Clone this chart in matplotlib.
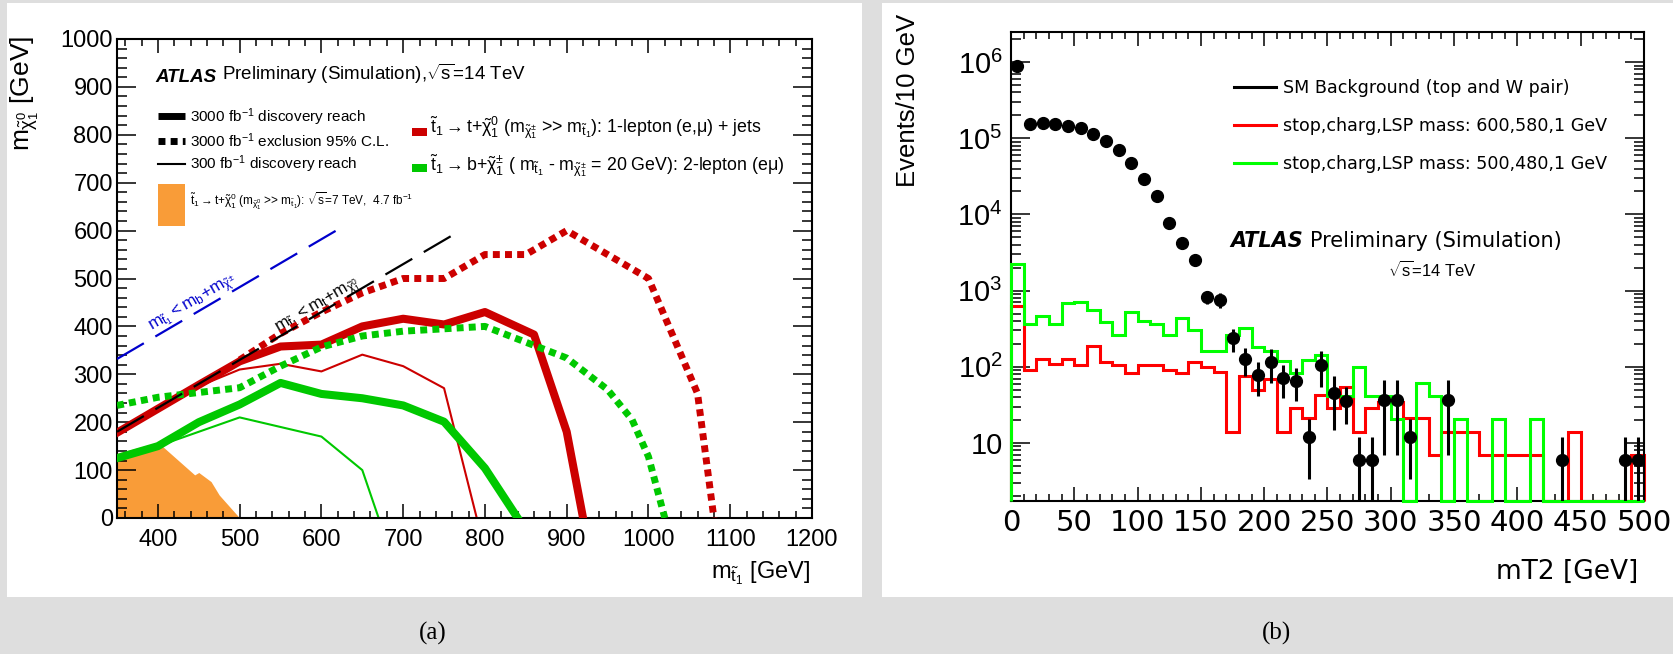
import numpy as np
import matplotlib.pyplot as plt
from matplotlib.lines import Line2D
from matplotlib.patches import Rectangle
from matplotlib.ticker import MultipleLocator, LogLocator, NullFormatter

plt.rcParams['font.family'] = ['Liberation Sans', 'DejaVu Sans']
plt.rcParams['mathtext.fontset'] = 'custom'
plt.rcParams['mathtext.rm'] = 'Liberation Sans'
plt.rcParams['mathtext.it'] = 'Liberation Sans'
plt.rcParams['mathtext.bf'] = 'Liberation Sans:bold'
plt.rcParams['mathtext.sf'] = 'Liberation Sans'

W, H = 1674, 654

# ---- panel (a): stop - neutralino mass plane (GeV) ----
red_disc_x = [350, 400, 450, 500, 550, 600, 650, 700, 750, 800, 860, 900, 920]
red_disc_y = [178, 228, 278, 327, 358, 362, 400, 416, 404, 430, 383, 180, 0]
red_disc300_x = [350, 400, 450, 500, 550, 600, 650, 700, 750, 790]
red_disc300_y = [178, 228, 275, 310, 322, 306, 341, 317, 271, 0]
red_excl_x = [500, 550, 600, 650, 700, 750, 800, 850, 900, 1000, 1060, 1080]
red_excl_y = [330, 385, 430, 470, 500, 500, 550, 550, 600, 500, 260, 0]
green_disc_x = [350, 400, 450, 500, 550, 600, 650, 700, 750, 800, 840]
green_disc_y = [125, 150, 200, 237, 282, 259, 250, 235, 201, 104, 0]
green_disc300_x = [350, 400, 500, 600, 650, 670]
green_disc300_y = [125, 150, 210, 170, 100, 0]
green_excl_x = [350, 400, 450, 500, 550, 600, 650, 700, 750, 800, 850, 900, 950, 980, 1000, 1020]
green_excl_y = [235, 252, 262, 272, 317, 357, 380, 390, 395, 400, 367, 334, 268, 205, 128, 0]
obs7_x = [350, 400, 445, 450, 465, 475, 500]
obs7_y = [135, 158, 90, 95, 76, 48, 0]
kin_b_x = [350, 620]
kin_b_y = [332, 602]
kin_t_x = [350, 770]
kin_t_y = [180, 600]

# ---- panel (b): mT2 distribution, 10 GeV bins from 0 to 500 ----
bin_edges = np.arange(0, 510, 10)
bkg = [8.9e5, 1.53e5, 1.57e5, 1.53e5, 1.45e5, 1.36e5, 1.13e5, 9.1e4, 7.0e4, 4.7e4,
       2.9e4, 1.74e4, 7.8e3, 4.2e3, 2.5e3, 830, 760, 237, 126, 78,
       117, 72, 66, 11.9, 107, 45, 36, 6, 6, 37,
       37, 11.9, 0, 0, 37, 0, 0, 0, 0, 0,
       0, 0, 0, 6, 0, 0, 0, 0, 6, 6]
bkg_err = [0, 0, 0, 0, 0, 0, 0, 0, 0, 0,
           0, 0, 0, 0, 0, 170, 170, 80, 50, 37,
           55, 33, 30, 8.5, 52, 30, 18, 6, 6, 30,
           30, 8.5, 0, 0, 30, 0, 0, 0, 0, 0,
           0, 0, 0, 6, 0, 0, 0, 0, 6, 6]
sig_600 = [630, 91, 125, 110, 125, 105, 186, 114, 105, 84,
           105, 105, 91, 84, 114, 100, 86, 13.8, 76, 49,
           69, 13.8, 28.5, 21, 42, 28.5, 55, 13.8, 28.5, 35,
           35, 21, 21, 6.9, 13.8, 13.8, 13.8, 6.9, 6.9, 6.9,
           6.9, 6.9, 0, 0, 13.8, 0, 0, 0, 0, 6.9]
sig_500 = [2240, 361, 470, 361, 680, 715, 556, 382, 263, 519,
           403, 364, 263, 442, 302, 161, 161, 263, 325, 180,
           163, 120, 82, 123, 143, 41, 41, 100, 41, 41,
           20.5, 0, 61, 41, 0, 20.5, 0, 0, 20.5, 0,
           0, 20.5, 0, 0, 0, 0, 0, 0, 0, 0]
y_ticks_b = [10, 1e2, 1e3, 1e4, 1e5, 1e6]
y_ticklabels_b = ['10', '$10^2$', '$10^3$', '$10^4$', '$10^5$', '$10^6$']
legend_b = ['SM Background (top and W pair)',
            'stop,charg,LSP mass: 600,580,1 GeV',
            'stop,charg,LSP mass: 500,480,1 GeV']


def P(px, py):
    # pixel position -> figure fraction
    return px / W, 1 - py / H


fig = plt.figure(figsize=(W / 100, H / 100), dpi=100)
fig.patch.set_facecolor('#dedede')
fig.add_artist(Rectangle(P(7, 597), 855 / W, 594 / H, transform=fig.transFigure,
                         facecolor='white', edgecolor='none', zorder=-1))
fig.add_artist(Rectangle(P(882, 597), 792 / W, 594 / H, transform=fig.transFigure,
                         facecolor='white', edgecolor='none', zorder=-1))

# ================= panel (a) =================
ax1 = fig.add_axes([117 / W, 1 - 518 / H, 695 / W, 479 / H])
ax1.set_xlim(350, 1200)
ax1.set_ylim(0, 1000)
orange = '#f99c38'
red = '#cc0000'
green = '#00c800'
dots = (0, (1, 0.75))

ax1.fill_between(obs7_x, obs7_y, 0, color=orange, lw=0, zorder=1)
ax1.plot(green_disc300_x, green_disc300_y, color=green, lw=1.5, zorder=2)
ax1.plot(red_disc300_x, red_disc300_y, color=red, lw=1.5, zorder=2)
ax1.plot(green_disc_x, green_disc_y, color=green, lw=5.8, zorder=3)
ax1.plot(red_disc_x, red_disc_y, color=red, lw=5.8, zorder=3)
ax1.plot(green_excl_x, green_excl_y, color=green, lw=5, ls=dots, dash_capstyle='butt', zorder=4)
ax1.plot(red_excl_x, red_excl_y, color=red, lw=5, ls=dots, dash_capstyle='butt', zorder=4)
ax1.plot(kin_b_x, kin_b_y, color='#0000cc', lw=1.6, ls=(0, (14, 6)), zorder=5)
ax1.plot(kin_t_x, kin_t_y, color='black', lw=1.6, ls=(0, (14, 6)), zorder=5)


def line_angle(ax, xs, ys):
    p0 = ax.transData.transform((xs[0], ys[0]))
    p1 = ax.transData.transform((xs[1], ys[1]))
    return np.degrees(np.arctan2(p1[1] - p0[1], p1[0] - p0[0]))


ang = line_angle(ax1, kin_b_x, kin_b_y)
ax1.text(450, 428, r'$m_{\tilde{t}_1} < m_b$+$m_{\tilde{\chi}^{\pm}}$', color='#0000cc',
         fontsize=12.5, rotation=ang, rotation_mode='anchor', ha='center', va='bottom')
ax1.text(602, 424, r'$m_{\tilde{t}_1} < m_t$+$m_{\tilde{\chi}^0_1}$', color='black',
         fontsize=12.5, rotation=ang, rotation_mode='anchor', ha='center', va='bottom')

ax1.xaxis.set_major_locator(MultipleLocator(100))
ax1.xaxis.set_minor_locator(MultipleLocator(20))
ax1.yaxis.set_major_locator(MultipleLocator(100))
ax1.yaxis.set_minor_locator(MultipleLocator(20))
ax1.set_xticks(range(400, 1201, 100))
ax1.tick_params(which='both', direction='in', top=True, right=True, width=1.1,
                labelsize=17)
ax1.tick_params(axis='x', which='major', length=10, pad=8)
ax1.tick_params(axis='x', which='minor', length=5)
ax1.tick_params(axis='y', which='major', length=14, pad=3)
ax1.tick_params(axis='y', which='minor', length=7)
for s in ax1.spines.values():
    s.set_linewidth(1.5)

fig.text(*P(810, 573), r'$m_{\tilde{t}_1}$ [GeV]', fontsize=17, ha='right', va='center')
fig.text(*P(25, 36), r'$m_{\tilde{\chi}^0_1}$ [GeV]', fontsize=19, rotation=90,
         ha='center', va='top')

atl = fig.text(*P(155, 77), 'ATLAS', fontsize=13.5, fontweight='bold',
               fontstyle='italic', ha='left', va='center')
ax1.annotate(r'Preliminary (Simulation),$\sqrt{s}$=14 TeV', xy=(1, 0), xycoords=atl,
             xytext=(4, 0), textcoords='offset points', fontsize=13.5,
             ha='left', va='bottom', annotation_clip=False)

# left legend block
fig.add_artist(Line2D([P(158, 0)[0], P(185, 0)[0]], [P(0, 116)[1]] * 2,
                      color='black', lw=5, solid_capstyle='butt'))
fig.add_artist(Line2D([P(158, 0)[0], P(185, 0)[0]], [P(0, 141)[1]] * 2,
                      color='black', lw=5, ls=dots, dash_capstyle='butt'))
fig.add_artist(Line2D([P(158, 0)[0], P(185, 0)[0]], [P(0, 164)[1]] * 2,
                      color='black', lw=1.5))
fig.add_artist(Rectangle(P(158, 226), 27 / W, 42 / H, transform=fig.transFigure,
                         facecolor=orange, edgecolor='none'))
fig.text(*P(190, 117), '3000 fb$^{-1}$ discovery reach', fontsize=11, va='center')
fig.text(*P(190, 141), '3000 fb$^{-1}$ exclusion 95% C.L.', fontsize=11, va='center')
fig.text(*P(190, 164), '300 fb$^{-1}$ discovery reach', fontsize=11, va='center')
fig.text(*P(190, 201),
         r'$\tilde{t}_1 \rightarrow t$+$\tilde{\chi}^0_1$ ($m_{\tilde{\chi}^0_1}$ >> $m_{\tilde{t}_1}$): '
         r'$\sqrt{s}$=7 TeV,  4.7 fb$^{-1}$', fontsize=8.5, va='center')

# right legend block
fig.add_artist(Rectangle(P(412, 136), 15 / W, 8 / H, transform=fig.transFigure,
                         facecolor=red, edgecolor='none'))
fig.add_artist(Rectangle(P(412, 172), 15 / W, 8 / H, transform=fig.transFigure,
                         facecolor=green, edgecolor='none'))
fig.text(*P(430, 128),
         r'$\tilde{t}_1 \rightarrow t$+$\tilde{\chi}^0_1$ ($m_{\tilde{\chi}^{\pm}_1}$ >> $m_{\tilde{t}_1}$): '
         r'1-lepton (e,$\mu$) + jets', fontsize=12.8, va='center')
fig.text(*P(430, 166),
         r'$\tilde{t}_1 \rightarrow b$+$\tilde{\chi}^{\pm}_1$ ( $m_{\tilde{t}_1}$ - $m_{\tilde{\chi}^{\pm}_1}$ '
         r'= 20 GeV): 2-lepton (e$\mu$)', fontsize=12.8, va='center')

# ================= panel (b) =================
ax2 = fig.add_axes([1011 / W, 1 - 501 / H, 633 / W, 469 / H])
ax2.set_yscale('log')
ymin, ymax = 1.73, 2.48e6
ax2.set_xlim(0, 500)
ax2.set_ylim(ymin, ymax)

sig_600 = np.array(sig_600, dtype=float)
sig_500 = np.array(sig_500, dtype=float)
ax2.stairs(np.where(sig_600 > 0, sig_600, ymin), bin_edges, baseline=ymin,
           color='#ff0000', lw=2.2, clip_on=False, zorder=2)
ax2.stairs(np.where(sig_500 > 0, sig_500, ymin), bin_edges, baseline=ymin,
           color='#00ff00', lw=2.2, clip_on=False, zorder=3)

centers = (bin_edges[:-1] + bin_edges[1:]) / 2
bkg = np.array(bkg, dtype=float)
bkg_err = np.array(bkg_err, dtype=float)
m = bkg > 0
lo = np.minimum(bkg_err[m], bkg[m] * 0.999)
ax2.errorbar(centers[m], bkg[m], yerr=[lo, bkg_err[m]], fmt='o', color='black',
             ms=8.5, elinewidth=2.2, capsize=0, zorder=4)

ax2.set_yticks(y_ticks_b, labels=y_ticklabels_b)
ax2.yaxis.set_minor_locator(LogLocator(base=10, subs=np.arange(2, 10)))
ax2.yaxis.set_minor_formatter(NullFormatter())
ax2.xaxis.set_major_locator(MultipleLocator(50))
ax2.xaxis.set_minor_locator(MultipleLocator(10))
ax2.tick_params(which='both', direction='in', top=True, right=True, width=1.1)
ax2.tick_params(axis='x', which='major', length=10, pad=6, labelsize=21)
ax2.tick_params(axis='x', which='minor', length=5)
ax2.tick_params(axis='y', which='major', length=14, pad=6, labelsize=21)
ax2.tick_params(axis='y', which='minor', length=7)
for lab in ax2.get_xticklabels():
    lab.set_fontfamily('DejaVu Sans')
for s in ax2.spines.values():
    s.set_linewidth(1.5)

handles = [Line2D([], [], color=c, lw=2.2) for c in ['black', '#ff0000', '#00ff00']]
ax2.legend(handles, legend_b, loc='upper left', bbox_to_anchor=P(1234, 79),
           bbox_transform=fig.transFigure, frameon=False,
           prop={'family': 'DejaVu Sans', 'size': 12.6}, handlelength=2.4,
           handletextpad=0.4, labelspacing=1.15, borderpad=0, borderaxespad=0)

atl2 = fig.text(*P(1230, 241), 'ATLAS', fontsize=15, fontweight='bold',
                fontstyle='italic', family='DejaVu Sans', ha='left', va='center')
ax2.annotate('Preliminary (Simulation)', xy=(1, 0), xycoords=atl2,
             xytext=(5, 0), textcoords='offset points', fontsize=15,
             family='DejaVu Sans', ha='left', va='bottom', annotation_clip=False)
fig.text(*P(1432, 270), r'$\sqrt{s}$=14 TeV', fontsize=12, ha='center', va='center')

fig.text(*P(1638, 572), 'mT2 [GeV]', fontsize=19, family='DejaVu Sans',
         ha='right', va='center')
fig.text(*P(908, 14), 'Events/10 GeV', fontsize=18.5, rotation=90,
         ha='center', va='top')

fig.text(*P(433, 633), '(a)', fontsize=18, family='Liberation Serif',
         ha='center', va='center')
fig.text(*P(1277, 633), '(b)', fontsize=18, family='Liberation Serif',
         ha='center', va='center')

fig.savefig('out.png', dpi=100, facecolor=fig.get_facecolor())
